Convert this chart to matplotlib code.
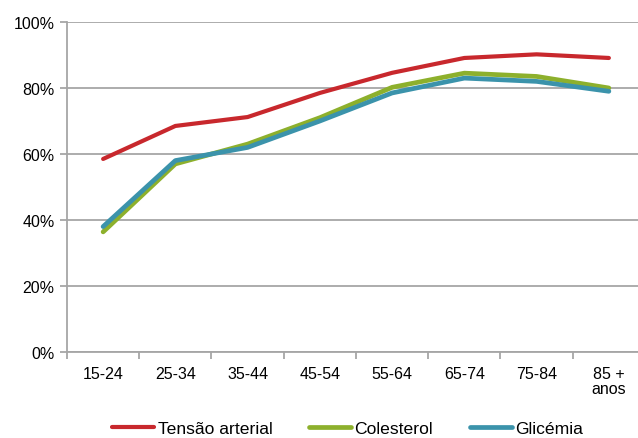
import matplotlib
matplotlib.use("Agg")
import matplotlib.pyplot as plt
from matplotlib.ticker import FixedLocator, PercentFormatter

plt.rcParams['font.family'] = ['Liberation Sans', 'DejaVu Sans']

categories = ["15-24", "25-34", "35-44", "45-54", "55-64", "65-74", "75-84", "85 +\nanos"]
tensao = [58.5, 68.5, 71.2, 78.5, 84.6, 89.1, 90.2, 89.1]
colesterol = [36.4, 57.0, 63.0, 71.0, 80.2, 84.5, 83.5, 80.0]
glicemia = [38.0, 58.0, 62.0, 70.0, 78.5, 83.0, 82.0, 79.0]
y_ticks = [0, 20, 40, 60, 80, 100]

fig = plt.figure(figsize=(6.38, 4.39), dpi=100)
ax = fig.add_axes([67/638, 1 - 353/439, (645 - 67)/638, (353 - 23)/439])

x = list(range(len(categories)))
ax.plot(x, tensao, color="#c8282d", lw=3.0, label="Tensão arterial", solid_capstyle="round", zorder=3)
ax.plot(x, colesterol, color="#8db02c", lw=3.4, label="Colesterol", solid_capstyle="round", zorder=4)
ax.plot(x, glicemia, color="#3b93ab", lw=3.4, label="Glicémia", solid_capstyle="round", zorder=5)

ax.set_xlim(-0.5, len(categories) - 0.5)
ax.set_ylim(0, 100)
ax.yaxis.set_major_locator(FixedLocator(y_ticks))
ax.yaxis.set_major_formatter(PercentFormatter(decimals=0))
ax.grid(axis="y", color="#a6a6a6", lw=1.3)
ax.set_axisbelow(True)

ax.set_xticks(x)
ax.set_xticklabels(categories, fontsize=11.5, linespacing=1.0)
ax.xaxis.set_minor_locator(FixedLocator([i - 0.5 for i in range(len(categories) + 1)]))
ax.tick_params(axis="x", which="major", length=0, pad=10)
ax.tick_params(axis="x", which="minor", length=5, color="#a6a6a6", width=1.3)
ax.tick_params(axis="y", length=5, color="#a6a6a6", width=1.3, labelsize=11.5, pad=4)

for s in ["top", "right"]:
    ax.spines[s].set_visible(False)
for s in ["left", "bottom"]:
    ax.spines[s].set_color("#a6a6a6")
    ax.spines[s].set_linewidth(1.3)

fig.legend(loc="lower center", bbox_to_anchor=(0.545, -0.032), ncol=3, frameon=False,
           fontsize=12.6, handlelength=2.4, handletextpad=0.2, columnspacing=2.1)

fig.savefig("out.png", dpi=100)
